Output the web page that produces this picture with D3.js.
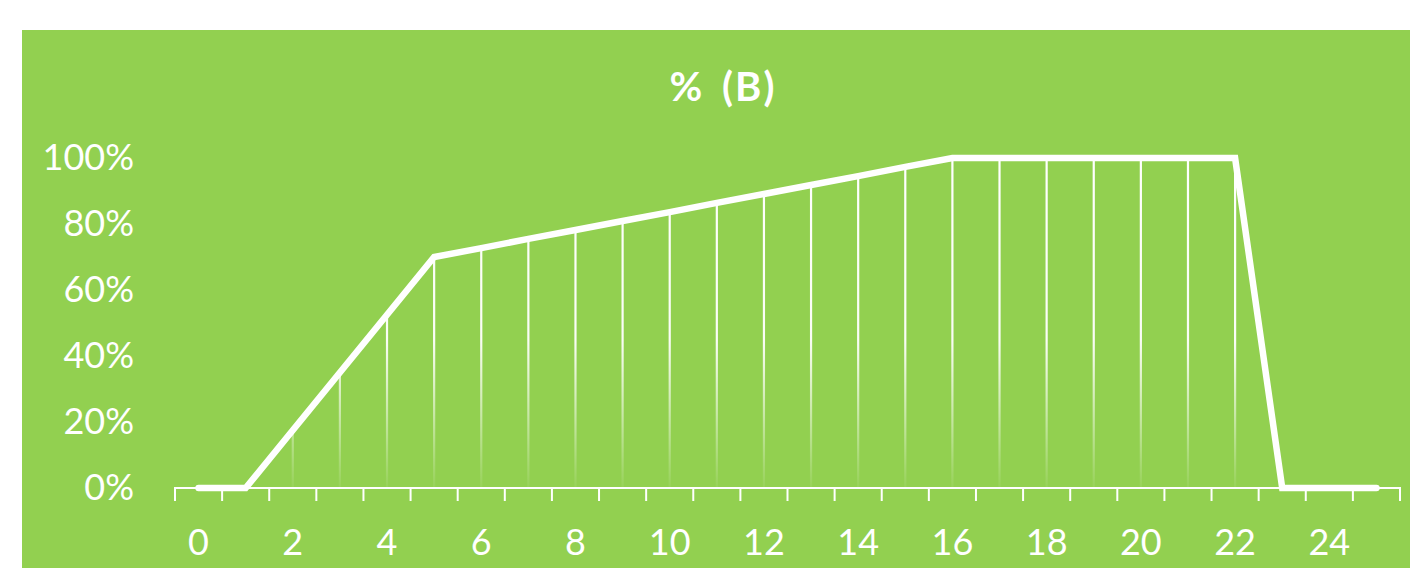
<!DOCTYPE html>
<html>
<head>
<meta charset="utf-8">
<script src="https://cdn.jsdelivr.net/npm/d3@7"></script>
<style>
  html, body { margin: 0; padding: 0; background: #ffffff; }
  svg { display: block; }
  text { font-family: Lato, "Open Sans", sans-serif; fill: #ffffff; }
</style>
</head>
<body>
<svg id="chart" width="1410" height="568"></svg>
<script>
// Hours of the day (category axis) and share per hour
const hours = [0, 1, 2, 3, 4, 5, 6, 7, 8, 9, 10, 11, 12, 13, 14, 15, 16, 17, 18, 19, 20, 21, 22, 23, 24, 25];
const shares = [0, 0, 0.175, 0.35, 0.525, 0.70, 0.727, 0.755, 0.782, 0.809, 0.836, 0.864, 0.891, 0.918, 0.945, 0.973, 1.0, 1.0, 1.0, 1.0, 1.0, 1.0, 1.0, 0, 0, 0];
const yTicks = [0, 0.2, 0.4, 0.6, 0.8, 1.0];
const xTickLabels = [0, 2, 4, 6, 8, 10, 12, 14, 16, 18, 20, 22, 24];
const title = "% (B)";

const svg = d3.select("#chart");
const W = 1410, H = 568;

// Chart area background
svg.append("rect")
  .attr("x", 22).attr("y", 30)
  .attr("width", W - 22).attr("height", H - 30)
  .attr("fill", "#92D050");

const plot = { left: 175, right: 1400, top: 158, bottom: 488 };

const x = d3.scaleBand()
  .domain(hours)
  .range([plot.left, plot.right])
  .paddingInner(0).paddingOuter(0);

const y = d3.scaleLinear()
  .domain([0, 1])
  .range([plot.bottom, plot.top]);

// Fading gradient for the drop lines
const defs = svg.append("defs");
const grad = defs.append("linearGradient")
  .attr("id", "dropFade")
  .attr("gradientUnits", "userSpaceOnUse")
  .attr("x1", 0).attr("x2", 0)
  .attr("y1", y(1)).attr("y2", y(0));
grad.append("stop").attr("offset", 0).attr("stop-color", "#ffffff").attr("stop-opacity", 1);
grad.append("stop").attr("offset", 0.55).attr("stop-color", "#ffffff").attr("stop-opacity", 0.95);
grad.append("stop").attr("offset", 1).attr("stop-color", "#ffffff").attr("stop-opacity", 0.05);

// Title
svg.append("text")
  .attr("x", 723).attr("y", 101)
  .attr("text-anchor", "middle")
  .style("font-size", "40px")
  .style("font-weight", "bold")
  .style("letter-spacing", "2px")
  .style("word-spacing", "6px")
  .text(title);

// Y axis labels
const yAxis = d3.axisLeft(y)
  .tickValues(yTicks)
  .tickFormat(d3.format(".0%"))
  .tickSize(0)
  .tickPadding(0);
const gy = svg.append("g")
  .attr("transform", `translate(${plot.left - 41},0)`)
  .call(yAxis);
gy.select(".domain").remove();
gy.selectAll("text")
  .attr("fill", "#ffffff")
  .style("font-size", "36px")
  .style("font-family", "Lato, 'Open Sans', sans-serif");

// X axis: line and ticks at category boundaries
const gx = svg.append("g").attr("class", "x-axis");
gx.append("line")
  .attr("x1", plot.left).attr("x2", plot.right)
  .attr("y1", plot.bottom).attr("y2", plot.bottom)
  .attr("stroke", "#ffffff").attr("stroke-width", 2);
const boundaries = hours.map(h => x(h)).concat([x(hours[hours.length - 1]) + x.bandwidth()]);
gx.selectAll("line.tick")
  .data(boundaries)
  .join("line")
  .attr("class", "tick")
  .attr("x1", d => d).attr("x2", d => d)
  .attr("y1", plot.bottom - 1).attr("y2", plot.bottom + 13)
  .attr("stroke", "#ffffff").attr("stroke-width", 2);
gx.selectAll("text")
  .data(xTickLabels)
  .join("text")
  .attr("x", d => x(d) + x.bandwidth() / 2)
  .attr("y", 555)
  .attr("text-anchor", "middle")
  .style("font-size", "36px")
  .text(d => d);

// Drop lines from each point to the baseline
svg.append("g")
  .selectAll("line")
  .data(hours.map((h, i) => ({ h, v: shares[i] })).filter(d => d.v > 0))
  .join("line")
  .attr("x1", d => x(d.h) + x.bandwidth() / 2)
  .attr("x2", d => x(d.h) + x.bandwidth() / 2 + 0.01)
  .attr("y1", d => y(d.v))
  .attr("y2", plot.bottom - 1)
  .attr("stroke", "url(#dropFade)")
  .attr("stroke-width", 2.2);

// Series line
const line = d3.line()
  .x((d, i) => x(hours[i]) + x.bandwidth() / 2)
  .y(d => y(d));
svg.append("path")
  .datum(shares)
  .attr("d", line)
  .attr("fill", "none")
  .attr("stroke", "#ffffff")
  .attr("stroke-width", 6.5)
  .attr("stroke-linecap", "round")
  .attr("stroke-linejoin", "miter");
</script>
</body>
</html>
